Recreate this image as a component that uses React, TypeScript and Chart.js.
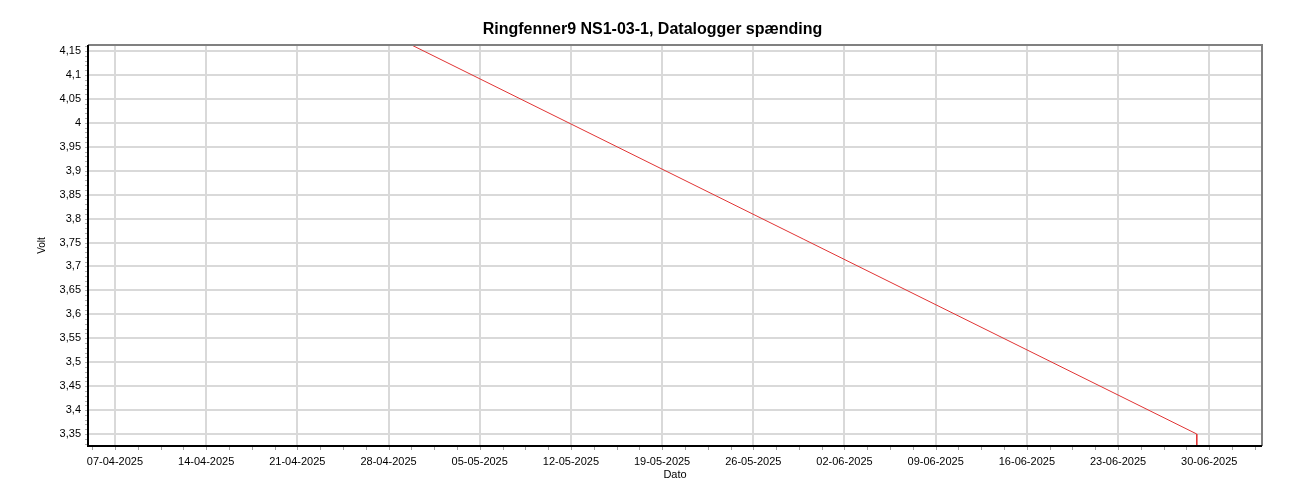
import React, { useEffect, useRef } from "react";
import { Chart, registerables } from "chart.js";

Chart.register(...registerables);

const DAY_MS = 86400000;
const ORIGIN = Date.UTC(2025, 3, 7);

const chartTitle = "Ringfenner9 NS1-03-1, Datalogger spænding";
const xAxisTitle = "Dato";
const yAxisTitle = "Volt";

const xRangeTimes = ["2025-04-04T22:20:00Z", "2025-07-04T01:10:00Z"];
const xTickLabels = [
  "07-04-2025", "14-04-2025", "21-04-2025", "28-04-2025", "05-05-2025",
  "12-05-2025", "19-05-2025", "26-05-2025", "02-06-2025", "09-06-2025",
  "16-06-2025", "23-06-2025", "30-06-2025",
];
const yRange = [3.325, 4.1625];
const yTickValues = [
  3.35, 3.4, 3.45, 3.5, 3.55, 3.6, 3.65, 3.7, 3.75, 3.8, 3.85, 3.9, 3.95,
  4.0, 4.05, 4.1, 4.15,
];

const pointTimes = ["2025-04-29T14:00:00Z", "2025-06-29T01:00:00Z", "2025-06-29T01:00:00Z"];
const pointVolts = [4.165, 3.35, 3.28];

const parseLabel = (s: string) => {
  const [d, m, y] = s.split("-").map(Number);
  return (Date.UTC(y, m - 1, d) - ORIGIN) / DAY_MS;
};
const parseTime = (s: string) => (Date.parse(s) - ORIGIN) / DAY_MS;
const fmtVolt = (v: number) => String(Number(v.toFixed(3))).replace(".", ",");

const FONT = "'Liberation Sans', Arial, sans-serif";

const framePlugin = {
  id: "frame",
  afterDraw(chart: any) {
    const { ctx, chartArea } = chart;
    const { left, right, top, bottom } = chartArea;
    const xs = chart.scales.x;
    const ys = chart.scales.y;
    ctx.save();
    // minor x ticks
    ctx.strokeStyle = "#a0a0a0";
    ctx.lineWidth = 1;
    const x0 = parseLabel(xTickLabels[0]);
    for (let d = x0 - 7; d <= xs.max; d += 1.75) {
      if (d < xs.min) continue;
      const px = Math.round(xs.getPixelForValue(d)) + 0.5;
      ctx.beginPath();
      ctx.moveTo(px, bottom + 1);
      ctx.lineTo(px, bottom + 4);
      ctx.stroke();
    }
    // minor y ticks
    ctx.strokeStyle = "#b0b0b0";
    for (let k = 0; ; k++) {
      const v = 3.35 - 0.02 + k * 0.01;
      if (v > ys.max) break;
      if (v < ys.min) continue;
      const py = Math.round(ys.getPixelForValue(v)) + 0.5;
      ctx.beginPath();
      ctx.moveTo(left - 3, py);
      ctx.lineTo(left - 1, py);
      ctx.stroke();
    }
    // top & right border
    ctx.strokeStyle = "#808080";
    ctx.lineWidth = 2;
    ctx.beginPath();
    ctx.moveTo(left, top);
    ctx.lineTo(right, top);
    ctx.lineTo(right, bottom);
    ctx.stroke();
    // left & bottom axis
    ctx.strokeStyle = "#000000";
    ctx.beginPath();
    ctx.moveTo(left, top);
    ctx.lineTo(left, bottom);
    ctx.lineTo(right, bottom);
    ctx.stroke();
    ctx.restore();
  },
};

export default function App() {
  const ref = useRef<HTMLCanvasElement | null>(null);

  useEffect(() => {
    if (!ref.current) return;
    const data = pointTimes.map((t, i) => ({ x: parseTime(t), y: pointVolts[i] }));
    const chart = new Chart(ref.current, {
      type: "line",
      data: {
        datasets: [
          {
            data,
            borderColor: "#e03434",
            borderWidth: 1,
            pointRadius: 0,
            fill: false,
            tension: 0,
          },
        ],
      },
      options: {
        animation: false,
        responsive: false,
        maintainAspectRatio: false,
        layout: { padding: { left: 43, right: 38, top: 0, bottom: 16 } },
        plugins: {
          legend: { display: false },
          tooltip: { enabled: false },
          title: {
            display: true,
            text: chartTitle,
            color: "#000",
            font: { family: FONT, size: 16, weight: "bold" },
            padding: { top: 20.4, bottom: 5.4 },
          },
        },
        scales: {
          x: {
            type: "linear",
            min: parseTime(xRangeTimes[0]),
            max: parseTime(xRangeTimes[1]),
            afterBuildTicks: (scale: any) => {
              scale.ticks = xTickLabels.map((l) => ({ value: parseLabel(l) }));
            },
            afterFit: (scale: any) => {
              scale.height = 38;
            },
            ticks: {
              autoSkip: false,
              maxRotation: 0,
              padding: 9,
              color: "#000",
              font: { family: FONT, size: 11 },
              callback: (_v: any, i: number) => xTickLabels[i],
            },
            grid: { color: "#d9d9d9", lineWidth: 2, drawTicks: false },
            border: { display: false },
            title: {
              display: true,
              text: xAxisTitle,
              color: "#000",
              font: { family: FONT, size: 11 },
              padding: { top: 0, bottom: 2 },
            },
          },
          y: {
            type: "linear",
            min: yRange[0],
            max: yRange[1],
            afterBuildTicks: (scale: any) => {
              scale.ticks = yTickValues.map((v) => ({ value: v }));
            },
            afterFit: (scale: any) => {
              scale.width = 45;
            },
            ticks: {
              autoSkip: false,
              padding: 7,
              color: "#000",
              font: { family: FONT, size: 11 },
              callback: (v: any) => fmtVolt(Number(v)),
            },
            grid: { color: "#d9d9d9", lineWidth: 2, drawTicks: false },
            border: { display: false },
            title: {
              display: true,
              text: yAxisTitle,
              color: "#000",
              font: { family: FONT, size: 10 },
              padding: { top: -7, bottom: 0 },
            },
          },
        },
      },
      plugins: [framePlugin],
    });
    return () => chart.destroy();
  }, []);

  return (
    <div style={{ position: "absolute", left: 0, top: 0, width: 1300, height: 500, background: "#fff" }}>
      <canvas ref={ref} width={1300} height={500} style={{ width: 1300, height: 500 }} />
    </div>
  );
}
